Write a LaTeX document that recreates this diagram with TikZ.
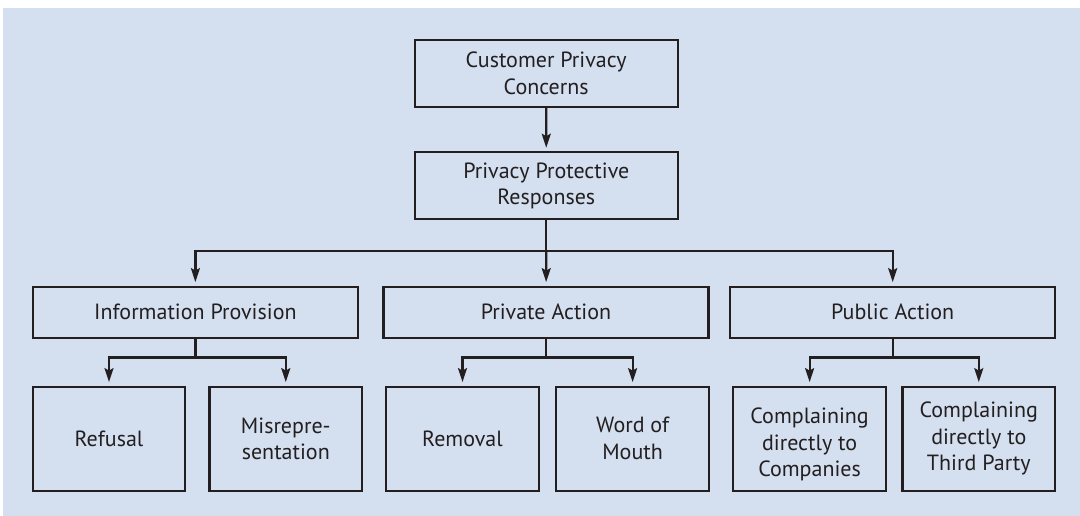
\documentclass[tikz,border=0pt]{standalone}
\usepackage{fontspec}
\setmainfont{PT Sans}
\usetikzlibrary{arrows.meta}
\definecolor{bg}{RGB}{212,223,240}
\definecolor{ink}{RGB}{35,31,32}
\begin{document}
\begin{tikzpicture}[x=1pt,y=-1pt,
  box/.style={draw=ink, line width=2.2pt, fill=bg, text=ink, align=center, inner sep=0pt,
    font=\fontsize{22}{26.7}\selectfont},
  topbox/.style={box, minimum width=263pt, minimum height=67pt},
  midbox/.style={box, minimum width=325pt, minimum height=51pt},
  leafbox/.style={box, minimum width=152.5pt, minimum height=104pt},
  conn/.style={draw=ink, line width=2.2pt},
  arr/.style={conn, -{Stealth[length=14pt,width=9pt,inset=2.5pt]}, shorten >=3.5pt}]
\useasboundingbox (0,0) rectangle (1080,516);
\fill[bg] (3,8) rectangle (1080,516);

\node[topbox] (cpc) at (546.2,73.3) {Customer Privacy\\Concerns};
\node[topbox] (ppr) at (546.3,185.8) {Privacy Protective\\Responses};

\node[midbox] (info) at (195.4,312.2) {Information Provision};
\node[midbox] (priv) at (546,312.2) {Private Action};
\node[midbox] (pub) at (892.7,312.2) {Public Action};

\node[leafbox] (ref) at (109,438.7) {Refusal};
\node[leafbox] (mis) at (285.8,438.7) {Misrepre-\\sentation};
\node[leafbox] (rem) at (462.5,438.7) {Removal};
\node[leafbox] (wom) at (632.6,438.7) {\raisebox{-2pt}[\height][\depth]{\begin{tabular}{@{}c@{}}Word of\\Mouth\end{tabular}}};
\node[leafbox] (comp) at (809.6,438.7) {\raisebox{-6pt}[\height][\depth]{\begin{tabular}{@{}c@{}}Complaining\\directly to\\Companies\end{tabular}}};
\node[leafbox] (third) at (978.8,438.7) {Complaining\\directly to\\Third Party};

\draw[arr] (cpc) -- (ppr);

\coordinate (j0) at (546.3,251);
\draw[conn] (ppr) -- (j0);
\draw[arr] (j0) -| (info);
\draw[arr] (j0) -- (priv);
\draw[arr] (j0) -| (pub);

\coordinate (j1) at (195.4,357.5);
\draw[conn] (info) -- (j1);
\draw[arr] (j1) -| (ref);
\draw[arr] (j1) -| (mis);

\coordinate (j2) at (546,357.5);
\draw[conn] (priv) -- (j2);
\draw[arr] (j2) -| (rem);
\draw[arr] (j2) -| (wom);

\coordinate (j3) at (892.7,357.5);
\draw[conn] (pub) -- (j3);
\draw[arr] (j3) -| (comp);
\draw[arr] (j3) -| (third);
\end{tikzpicture}
\end{document}
